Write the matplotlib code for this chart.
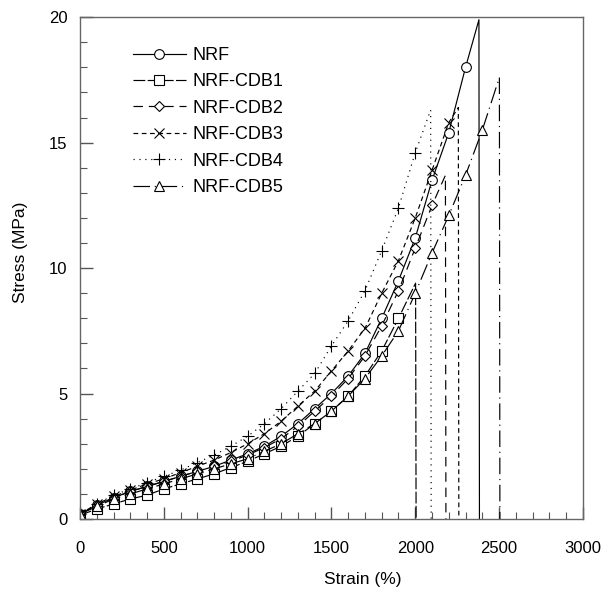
import matplotlib
matplotlib.use("Agg")
import matplotlib.pyplot as plt
from matplotlib.ticker import MultipleLocator

# strain grid (%) shared by all specimens, cut at each failure strain
strain = [0, 100, 200, 300, 400, 500, 600, 700, 800, 900, 1000, 1100, 1200,
          1300, 1400, 1500, 1600, 1700, 1800, 1900, 2000, 2100, 2200, 2300, 2400]

# stress (MPa)
nrf = [0.2, 0.55, 0.85, 1.1, 1.3, 1.5, 1.7, 1.9, 2.1, 2.35, 2.6, 2.9, 3.3,
       3.8, 4.4, 5.0, 5.7, 6.6, 8.0, 9.5, 11.2, 13.5, 15.4, 18.0]
cdb1 = [0.15, 0.4, 0.6, 0.8, 0.95, 1.2, 1.4, 1.6, 1.8, 2.05, 2.3, 2.6, 2.9,
        3.3, 3.8, 4.3, 4.9, 5.7, 6.7, 8.0]
cdb2 = [0.2, 0.55, 0.85, 1.1, 1.3, 1.5, 1.7, 1.9, 2.1, 2.3, 2.55, 2.85, 3.2,
        3.7, 4.3, 4.9, 5.6, 6.5, 7.7, 9.1, 10.8, 12.5]
cdb3 = [0.2, 0.6, 0.9, 1.15, 1.4, 1.6, 1.85, 2.1, 2.35, 2.65, 3.0, 3.4, 3.9,
        4.5, 5.1, 5.9, 6.7, 7.6, 9.0, 10.3, 12.0, 13.9, 15.8]
cdb4 = [0.2, 0.6, 0.95, 1.2, 1.45, 1.7, 1.95, 2.25, 2.55, 2.9, 3.3, 3.8, 4.4,
        5.1, 5.8, 6.9, 7.9, 9.1, 10.7, 12.4, 14.6]
cdb5 = [0.2, 0.5, 0.8, 1.0, 1.2, 1.4, 1.6, 1.8, 2.0, 2.2, 2.4, 2.7, 3.0,
        3.4, 3.8, 4.3, 4.9, 5.6, 6.5, 7.5, 9.0, 10.6, 12.1, 13.7, 15.5]

# failure point: (strain at break, stress at break)
nrf_break = (2380, 19.9)
cdb1_break = (2002, 9.4)
cdb2_break = (2180, 13.7)
cdb3_break = (2257, 16.4)
cdb4_break = (2092, 16.3)
cdb5_break = (2502, 17.6)

labels = ["NRF", "NRF-CDB1", "NRF-CDB2", "NRF-CDB3", "NRF-CDB4", "NRF-CDB5"]
series = [nrf, cdb1, cdb2, cdb3, cdb4, cdb5]
breaks = [nrf_break, cdb1_break, cdb2_break, cdb3_break, cdb4_break, cdb5_break]
markers = ["o", "s", "D", "x", "+", "^"]
msizes = [7, 6.5, 5, 7, 8, 7]
styles = ["-", (0, (10, 2)), (0, (8, 5)), (0, (4, 3)), (0, (1, 4)), (5, (1, 4, 14, 4))]

plt.rcParams["font.family"] = ["Liberation Sans", "DejaVu Sans"]

fig = plt.figure(figsize=(6.04, 5.89), dpi=100)
ax = fig.add_axes([0.1325, 0.1188, 0.8325, 0.852])

for lab, ys, (bx, by), mk, ms, ls in zip(labels, series, breaks, markers, msizes, styles):
    xs = strain[:len(ys)] + [bx, bx + 3]
    yy = ys + [by, 0]
    n = len(ys)
    ax.plot(xs, yy, color="black", linestyle=ls, linewidth=0.85,
            marker=mk, markersize=ms, markerfacecolor="white",
            markeredgecolor="black", markeredgewidth=0.8,
            markevery=list(range(0, n)), label=lab)

ax.set_xlim(0, 3000)
ax.set_ylim(0, 20)
ax.xaxis.set_major_locator(MultipleLocator(500))
ax.xaxis.set_minor_locator(MultipleLocator(100))
ax.yaxis.set_major_locator(MultipleLocator(5))
ax.yaxis.set_minor_locator(MultipleLocator(1))
ax.tick_params(which="both", direction="in", top=False, right=False,
               colors="#555555", labelcolor="black", labelsize=12)
ax.tick_params(which="major", length=9, width=1)
ax.tick_params(which="minor", length=5, width=0.8)
ax.tick_params(axis="x", which="major", pad=16)
ax.tick_params(axis="y", which="major", pad=9)
for sp in ax.spines.values():
    sp.set_color("#666666")
    sp.set_linewidth(1.0)

ax.set_xlabel("Strain (%)", fontsize=12.5)
ax.xaxis.set_label_coords(0.563, -0.105)
ax.set_ylabel("Stress (MPa)", fontsize=12.5)
ax.yaxis.set_label_coords(-0.103, 0.532)

ax.legend(loc="upper left", bbox_to_anchor=(0.0915, 0.955), frameon=False,
          fontsize=13, handlelength=2.9, handletextpad=0.4, labelspacing=0.52,
          borderaxespad=0)

fig.savefig("out.png", dpi=100)
